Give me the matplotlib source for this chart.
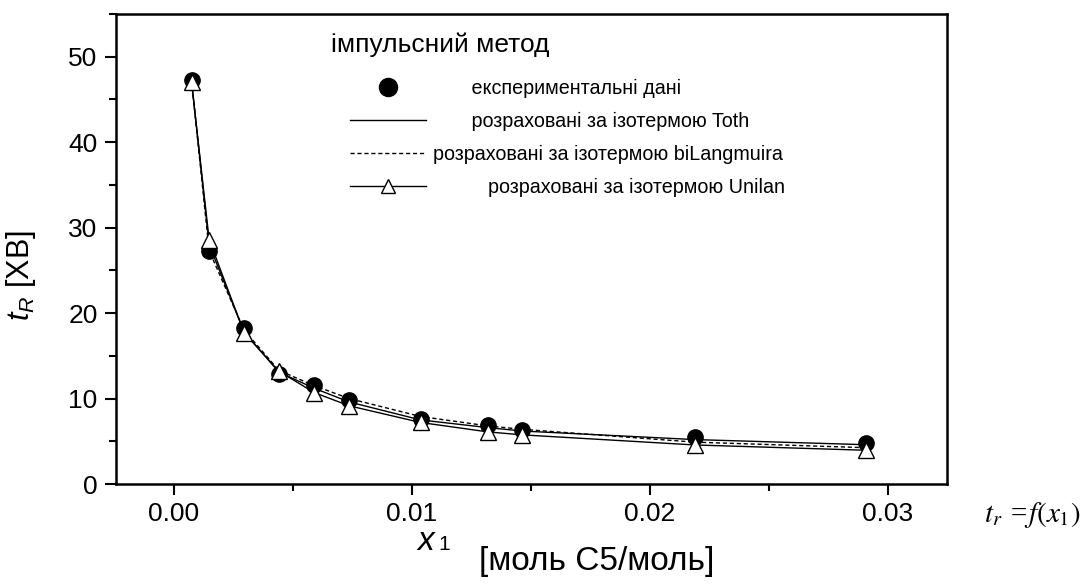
import matplotlib
matplotlib.use("Agg")
import matplotlib.pyplot as plt
from matplotlib.lines import Line2D
from matplotlib.ticker import MultipleLocator, FormatStrFormatter

plt.rcParams['font.family'] = ['Liberation Sans', 'DejaVu Sans']
plt.rcParams['mathtext.fontset'] = 'custom'
plt.rcParams['mathtext.it'] = 'Liberation Sans:italic'
plt.rcParams['mathtext.rm'] = 'Liberation Sans'

# data
x1 = [0.00074, 0.00148, 0.00295, 0.00441, 0.0059, 0.00737, 0.01037, 0.0132, 0.01465, 0.0219, 0.0291]
t_exp = [47.3, 27.3, 18.2, 12.9, 11.6, 9.85, 7.6, 6.9, 6.3, 5.55, 4.75]
t_toth = [47.2, 28.0, 17.8, 13.1, 11.2, 9.6, 7.5, 6.6, 6.2, 5.2, 4.6]
t_bilang = [47.2, 27.3, 18.0, 13.3, 11.5, 10.0, 7.9, 6.8, 6.4, 4.9, 4.25]
t_unilan = [47.0, 28.6, 17.7, 13.2, 10.7, 9.15, 7.2, 6.1, 5.75, 4.57, 3.95]

labels = ["       експериментальні дані",
          "       розраховані за ізотермою Toth",
          "розраховані за ізотермою biLangmuira",
          "          розраховані за ізотермою Unilan"]
title_text = "імпульсний метод"

fig = plt.figure(figsize=(10.83, 5.84), dpi=100)
ax = fig.add_axes([0.1068, 0.1712, 0.7676, 0.8048])

ax.plot(x1, t_toth, color='black', lw=1.0, zorder=2)
ax.plot(x1, t_bilang, color='black', lw=1.0, ls=(0, (3, 2)), zorder=2)
ax.plot(x1, t_exp, 'o', color='black', ms=11, zorder=3)
ax.plot(x1, t_unilan, color='black', lw=1.0, marker='^', ms=12,
        mfc='white', mec='black', mew=1.0, zorder=4)

ax.set_xlim(-0.00245, 0.0325)
ax.set_ylim(0, 55)
ax.xaxis.set_major_locator(MultipleLocator(0.01))
ax.xaxis.set_minor_locator(MultipleLocator(0.005))
ax.yaxis.set_major_locator(MultipleLocator(10))
ax.yaxis.set_minor_locator(MultipleLocator(5))
ax.xaxis.set_major_formatter(FormatStrFormatter('%.2f'))
ax.yaxis.set_major_formatter(FormatStrFormatter('%d'))
ax.tick_params(which='major', direction='out', length=8, width=1.5, labelsize=19, pad=5)
ax.tick_params(which='minor', direction='out', length=5, width=1.5)
for s in ax.spines.values():
    s.set_linewidth(1.8)

handles = [
    Line2D([], [], ls='none', marker='o', color='black', ms=13),
    Line2D([], [], color='black', lw=1.0),
    Line2D([], [], color='black', lw=1.0, ls=(0, (3, 2))),
    Line2D([], [], color='black', lw=1.0, marker='^', ms=10, mfc='white', mec='black'),
]
leg = ax.legend(handles, labels, loc='upper left', bbox_to_anchor=(0.282, 0.862),
                frameon=False, fontsize=14.2, handlelength=3.85, handletextpad=0.35,
                labelspacing=0.7, borderaxespad=0, borderpad=0)

ax.text(0.259, 0.935, title_text, transform=ax.transAxes, fontsize=19,
        ha='left', va='center')

ax.set_ylabel(r'$t_R$ [ХВ]', fontsize=22)
ax.yaxis.set_label_coords(-0.093, 0.443)

fig.text(0.4035, 0.058, r'$x$', fontsize=24, ha='right', va='baseline')
fig.text(0.4045, 0.058, '1', fontsize=15, ha='left', va='baseline')
fig.text(0.551, 0.012, '[моль С5/моль]', fontsize=24, ha='center', va='bottom')
fig.text(0.998, 0.118, r'$t_r$ =$f(x_1)$', fontsize=21, ha='right', va='center',
         family='Liberation Serif', math_fontfamily='stix', style='italic')

fig.savefig('out.png', dpi=100)
